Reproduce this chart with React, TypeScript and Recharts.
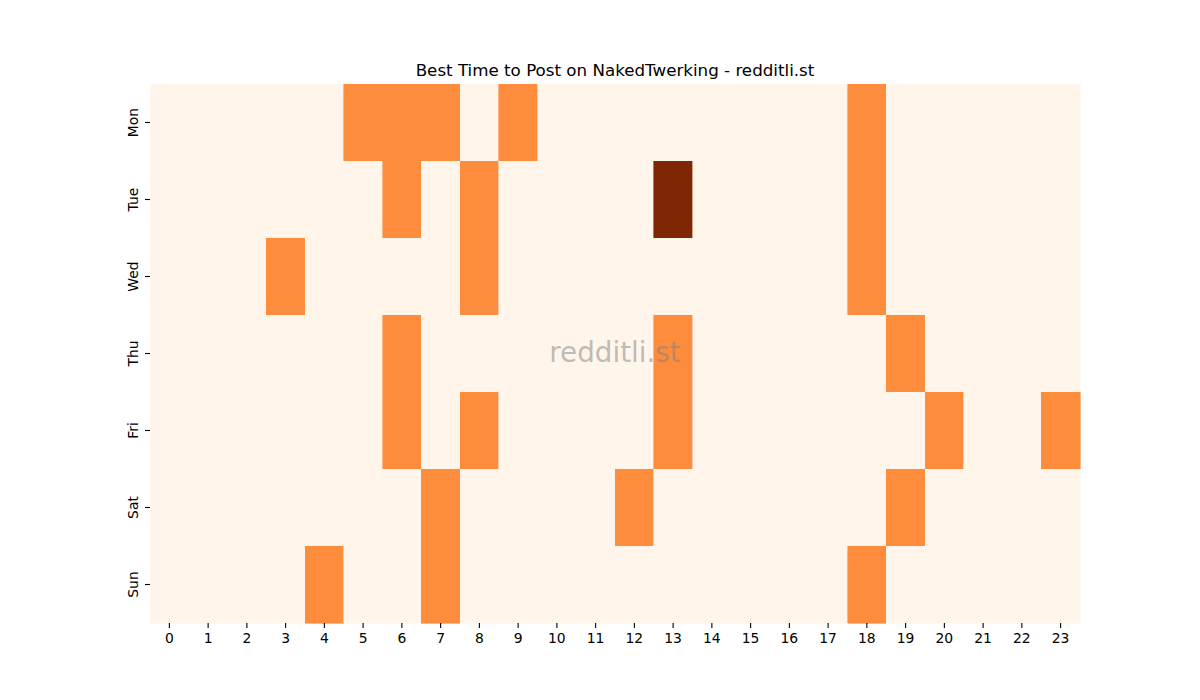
import { Bar, BarChart, Cell, XAxis, YAxis } from "recharts"

const title = "Best Time to Post on NakedTwerking - redditli.st"
const watermark = "redditli.st"

const days = ["Mon", "Tue", "Wed", "Thu", "Fri", "Sat", "Sun"]
const hours = [0, 1, 2, 3, 4, 5, 6, 7, 8, 9, 10, 11, 12, 13, 14, 15, 16, 17, 18, 19, 20, 21, 22, 23]

// activity score per day, one entry per hour (0 = low, 1 = good, 2 = best)
const mon = [0, 0, 0, 0, 0, 1, 1, 1, 0, 1, 0, 0, 0, 0, 0, 0, 0, 0, 1, 0, 0, 0, 0, 0]
const tue = [0, 0, 0, 0, 0, 0, 1, 0, 1, 0, 0, 0, 0, 2, 0, 0, 0, 0, 1, 0, 0, 0, 0, 0]
const wed = [0, 0, 0, 1, 0, 0, 0, 0, 1, 0, 0, 0, 0, 0, 0, 0, 0, 0, 1, 0, 0, 0, 0, 0]
const thu = [0, 0, 0, 0, 0, 0, 1, 0, 0, 0, 0, 0, 0, 1, 0, 0, 0, 0, 0, 1, 0, 0, 0, 0]
const fri = [0, 0, 0, 0, 0, 0, 1, 0, 1, 0, 0, 0, 0, 1, 0, 0, 0, 0, 0, 0, 1, 0, 0, 1]
const sat = [0, 0, 0, 0, 0, 0, 0, 1, 0, 0, 0, 0, 1, 0, 0, 0, 0, 0, 0, 1, 0, 0, 0, 0]
const sun = [0, 0, 0, 0, 1, 0, 0, 1, 0, 0, 0, 0, 0, 0, 0, 0, 0, 0, 1, 0, 0, 0, 0, 0]

const scores = [mon, tue, wed, thu, fri, sat, sun]

// Oranges colormap stops for score 0, 1, 2
const palette = ["#fff5eb", "#fd8d3c", "#7f2704"]

const font = "DejaVu Sans"

// every hour cell is one unit wide, stacked along the row
const rows = days.map((day) => {
  const row: Record<string, string | number> = { day }
  hours.forEach((h) => {
    row[`h${h}`] = 1
  })
  return row
})

const hourTicks = hours.map((h) => h + 0.5)

function DayTick(props: any) {
  const { x, y, payload } = props
  const cx = x - 10
  return (
    <text
      x={cx}
      y={y}
      transform={`rotate(-90, ${cx}, ${y})`}
      textAnchor="middle"
      dominantBaseline="central"
      fontFamily={font}
      fontSize={13.9}
      fill="#000"
    >
      {payload.value}
    </text>
  )
}

export default function App() {
  return (
    <div style={{ position: "absolute", left: 0, top: 0, width: 1200, height: 700, background: "#fff" }}>
      <BarChart
        width={1200}
        height={700}
        data={rows}
        layout="vertical"
        barCategoryGap={0}
        barGap={0}
        margin={{ top: 84, right: 120, bottom: 47, left: 110 }}
      >
        <XAxis
          type="number"
          domain={[0, 24]}
          ticks={hourTicks}
          tickFormatter={(v) => String(Math.floor(v))}
          interval={0}
          axisLine={false}
          tickLine={{ stroke: "#000", strokeWidth: 1.1 }}
          tickSize={5}
          tickMargin={5}
          height={30}
          tick={{ fontFamily: font, fontSize: 13.9, fill: "#000" }}
        />
        <YAxis
          type="category"
          dataKey="day"
          width={40}
          axisLine={false}
          tickLine={{ stroke: "#000", strokeWidth: 1.1 }}
          tickSize={5}
          tickMargin={2}
          interval={0}
          tick={<DayTick />}
        />
        {hours.map((h) => (
          <Bar key={h} dataKey={`h${h}`} stackId="grid" isAnimationActive={false}>
            {rows.map((_, i) => (
              <Cell
                key={i}
                fill={palette[scores[i][h]]}
                stroke={palette[scores[i][h]]}
                strokeWidth={0.6}
                shapeRendering="crispEdges"
              />
            ))}
          </Bar>
        ))}
      </BarChart>
      <svg
        width={1200}
        height={700}
        style={{ position: "absolute", left: 0, top: 0, pointerEvents: "none" }}
      >
        <text x={615} y={76} textAnchor="middle" fontFamily={font} fontSize={16.7} fill="#000">
          {title}
        </text>
        <text
          x={615}
          y={362}
          textAnchor="middle"
          fontFamily={font}
          fontSize={27.8}
          fill="#808080"
          fillOpacity={0.5}
        >
          {watermark}
        </text>
      </svg>
    </div>
  )
}
